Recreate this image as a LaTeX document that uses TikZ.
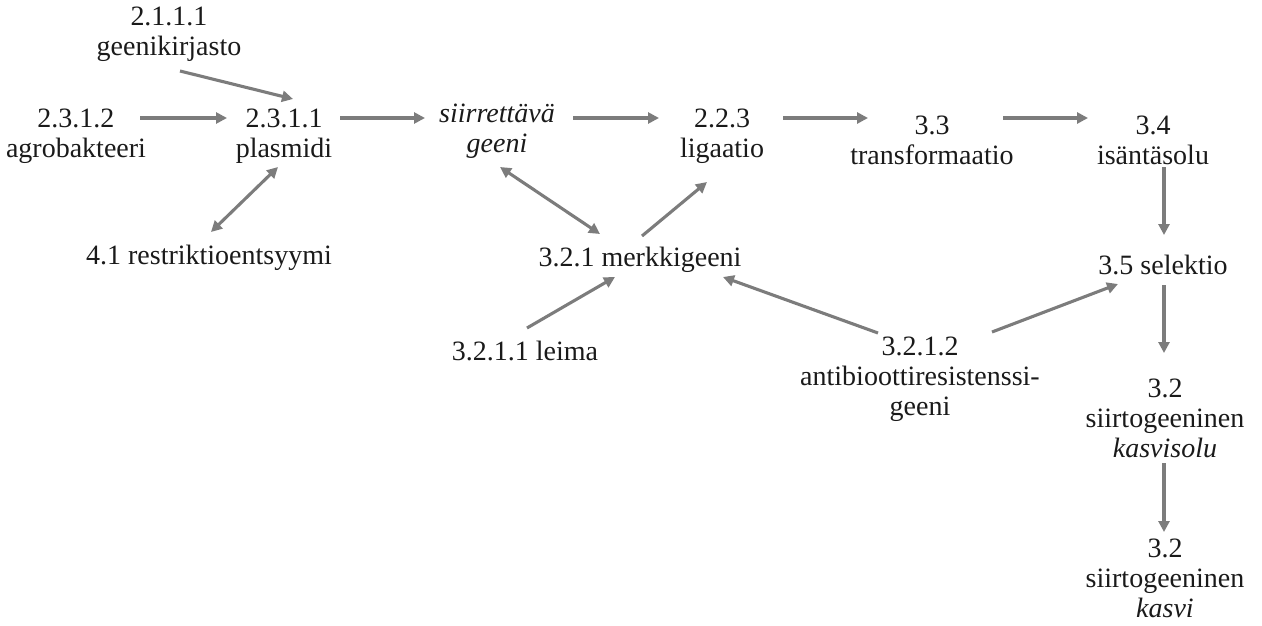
\documentclass[tikz,border=0pt]{standalone}
\usepackage{fontspec}
\setmainfont{Liberation Serif}
\usetikzlibrary{arrows.meta}
\definecolor{arrowgrey}{HTML}{7C7C7C}
\definecolor{inkc}{HTML}{1A1A1A}
\begin{document}
\begin{tikzpicture}[x=1pt,y=-1pt,
  term/.style={inner sep=0pt,align=center,text=inkc,
    font=\fontsize{28}{30}\selectfont},
  arr/.style={draw=arrowgrey,line width=3.1pt,
    -{Triangle[length=11pt,width=11pt]}},
  biarr/.style={arr,{Triangle[length=11pt,width=11pt]}-{Triangle[length=11pt,width=11pt]}}]
\useasboundingbox (0,0) rectangle (1262,626);

% concept nodes
\node[term] (gk)    at (169,34)  {2.1.1.1\\geenikirjasto};
\node[term] (agro)  at (76,136)  {2.3.1.2\\agrobakteeri};
\node[term] (plas)  at (284,136) {2.3.1.1\\plasmidi};
\node[term] (siir)  at (497,131) {\itshape siirrettävä\\\itshape geeni};
\node[term] (lig)   at (722,136) {2.2.3\\ligaatio};
\node[term] (trans) at (932,140) {3.3\\transformaatio};
\node[term] (isa)   at (1153,140) {3.4\\isäntäsolu};
\node[term] (restr) at (209,258) {4.1 restriktioentsyymi};
\node[term] (merk)  at (640,260) {3.2.1 merkkigeeni};
\node[term] (leima) at (525,351) {3.2.1.1 leima};
\node[term] (anti)  at (920,379) {3.2.1.2\\antibioottiresistenssi-\\geeni};
\node[term] (sel)   at (1163,265) {3.5 selektio};
\node[term] (kso)   at (1165,418) {3.2\\siirtogeeninen\\\itshape kasvisolu};
\node[term] (kas)   at (1165,578) {3.2\\siirtogeeninen\\\itshape kasvi};

% connectors
\draw[arr] ([shift={(11,37)}]gk.center)   -- ([shift={(9,-37)}]plas.center);
\draw[arr] ([shift={(64,-18)}]agro.center) -- ([shift={(-57,-18)}]plas.center);
\draw[arr] ([shift={(56,-18)}]plas.center) -- ([shift={(-72,-13)}]siir.center);
\draw[arr] ([shift={(76,-13)}]siir.center) -- ([shift={(-63,-18)}]lig.center);
\draw[arr] ([shift={(61,-18)}]lig.center)  -- ([shift={(-64,-22)}]trans.center);
\draw[arr] ([shift={(71,-22)}]trans.center) -- ([shift={(-65,-22)}]isa.center);
\draw[biarr] ([shift={(-6,31)}]plas.center) -- ([shift={(2,-26)}]restr.center);
\draw[biarr] ([shift={(3,36)}]siir.center) -- ([shift={(-40,-26)}]merk.center);
\draw[arr] ([shift={(2,-24)}]merk.center)  -- ([shift={(-15,46)}]lig.center);
\draw[arr] ([shift={(2,-23)}]leima.center) -- ([shift={(-25,17)}]merk.center);
\draw[arr] ([shift={(-42,-46)}]anti.center) -- ([shift={(83,17)}]merk.center);
\draw[arr] ([shift={(72,-47)}]anti.center) -- ([shift={(-45,19)}]sel.center);
\draw[arr] ([shift={(11,27)}]isa.center)   -- ([shift={(1,-30)}]sel.center);
\draw[arr] ([shift={(1,20)}]sel.center)    -- ([shift={(-1,-65)}]kso.center);
\draw[arr] ([shift={(-1,45)}]kso.center)   -- ([shift={(-1,-46)}]kas.center);
\end{tikzpicture}
\end{document}
